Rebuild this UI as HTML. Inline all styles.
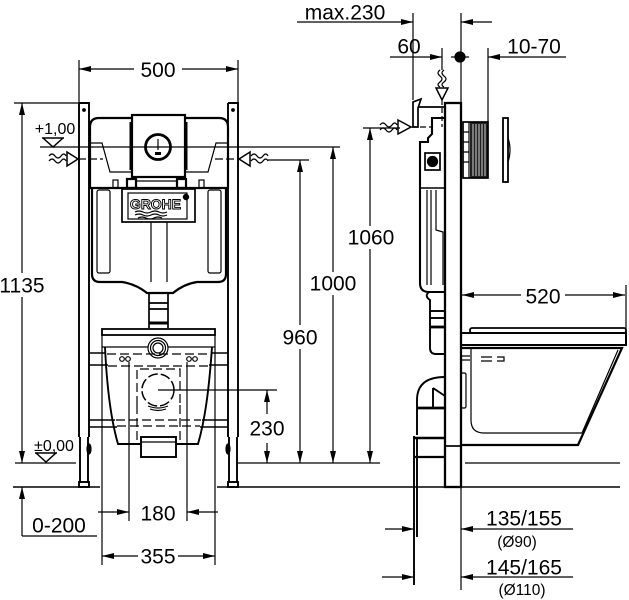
<!DOCTYPE html>
<html><head><meta charset="utf-8"><style>
html,body{margin:0;padding:0;background:#fff;}
svg{display:block;}
text{font-family:"Liberation Sans",Arial,sans-serif;fill:#000;}
</style></head><body>
<svg width="629" height="600" viewBox="0 0 629 600" xmlns="http://www.w3.org/2000/svg">
<defs>
<marker id="a" viewBox="0 0 12 6" markerWidth="12" markerHeight="6" refX="12" refY="3" orient="auto" markerUnits="userSpaceOnUse"><path d="M0,0L12,3L0,6z" fill="#000"/></marker>
</defs>
<g stroke="#000" fill="none" stroke-width="1.2">

<!-- ============ LEFT (FRONT) VIEW ============ -->
<!-- 500 dim -->
<line x1="79" y1="60" x2="79" y2="104"/>
<line x1="238" y1="60" x2="238" y2="104"/>
<line x1="134" y1="69" x2="79" y2="69" marker-end="url(#a)"/>
<line x1="182" y1="69" x2="238" y2="69" marker-end="url(#a)"/>

<!-- 1135 dim -->
<line x1="14" y1="103" x2="79" y2="103"/>
<line x1="22" y1="273" x2="22" y2="103" marker-end="url(#a)"/>
<line x1="22" y1="297" x2="22" y2="463" marker-end="url(#a)"/>

<!-- level lines -->
<line x1="40" y1="147" x2="340" y2="147"/>
<line x1="15" y1="463" x2="76" y2="463"/>
<line x1="238" y1="463" x2="380" y2="463"/>
<line x1="465" y1="463" x2="620" y2="463"/>
<line x1="13" y1="487" x2="100" y2="487" stroke-width="1.5"/>
<line x1="217" y1="487" x2="620" y2="487" stroke-width="1.5"/>
<!-- level triangles -->
<path d="M42,138 L64,138 M43,138 L53,147 L63,138" stroke-width="1.5"/>
<path d="M35,453 L57,453 M36,453 L46,462 L56,453" stroke-width="1.5"/>

<!-- posts -->
<g stroke-width="1.9">
<path d="M79,103 L89,103 L89,437 M79,103 L79,437"/>
<path d="M228,103 L238,103 L238,437 M228,103 L228,437"/>
<path d="M80,437 L80,483 M88,437 L88,483"/>
<path d="M229,437 L229,483 M237,437 L237,483"/>
<rect x="79" y="482" width="10" height="5"/>
<rect x="228" y="482" width="10" height="5"/>
</g>
<ellipse cx="89" cy="449" rx="2" ry="5" fill="#000"/>
<ellipse cx="228" cy="449" rx="2" ry="5" fill="#000"/>
<circle cx="84" cy="110" r="1.3" fill="#000"/>
<circle cx="233" cy="110" r="1.3" fill="#000"/>

<!-- inlet arrows front -->
<path d="M49,156 q3,-4 6,0 t6,0 t5,0 M49,161 q3,-4 6,0 t6,0 t5,0"/>
<path d="M67,152 L78,159 L67,166 Z" stroke-width="1.5"/>
<line x1="78" y1="159" x2="103" y2="159" stroke-dasharray="8,3"/>
<path d="M250,152 L239,159 L250,166 Z" stroke-width="1.5"/>
<path d="M251,156 q3,-4 6,0 t6,0 t5,0 M251,161 q3,-4 6,0 t6,0 t5,0"/>
<line x1="215" y1="159" x2="239" y2="159" stroke-dasharray="8,3"/>
<line x1="268" y1="160" x2="309" y2="160"/>

<!-- cistern -->
<g stroke-width="2.2">
<path d="M90,188 L90,127 Q90,118 99,118 L219,118 Q228,118 228,127 L228,188 Z"/>
<path d="M92,188 L92,274 Q92,282 100,282 L122,282 Q136,284 147,293 L173,293 Q184,284 197,282 L218,282 Q226,282 226,274 L226,188"/>
</g>
<path d="M90,143 L102,143 L110,172 L132,172 M228,143 L216,143 L208,172 L185,172"/>
<rect x="113" y="180" width="5" height="8"/>
<rect x="199" y="180" width="5" height="8"/>
<rect x="127" y="179" width="9" height="9" stroke-width="2.2"/>
<rect x="177" y="179" width="9" height="9" stroke-width="2.2"/>
<line x1="136" y1="181" x2="177" y2="181"/>
<rect x="97" y="190" width="13" height="83" rx="2"/>
<rect x="208" y="190" width="13" height="83" rx="2"/>
<line x1="151" y1="222" x2="151" y2="282"/>
<line x1="167" y1="222" x2="167" y2="282"/>
<!-- button plate -->
<rect x="132" y="115" width="53" height="62" stroke-width="2.2" fill="#fff"/>
<line x1="132" y1="147" x2="185" y2="147"/>
<rect x="129.5" y="122" width="2.5" height="48" fill="#000" stroke="none"/>
<rect x="185" y="122" width="2.5" height="48" fill="#000" stroke="none"/>
<circle cx="158" cy="147" r="12.5" stroke-width="2.8" fill="#fff"/>
<line x1="146" y1="147" x2="170" y2="147"/>
<line x1="158" y1="139" x2="158" y2="150"/>
<rect x="155" y="152" width="6" height="3" fill="#000" stroke="none"/>
<!-- GROHE plate -->
<rect x="122" y="189" width="73" height="33" stroke-width="1.7" fill="#fff"/>
<rect x="128" y="193" width="59" height="26"/>
<text x="130" y="209" font-size="13.5" font-weight="bold" textLength="51" lengthAdjust="spacingAndGlyphs" style="fill:#fff;stroke:#000;stroke-width:0.9">GROHE</text>
<circle cx="186" cy="197" r="2.6" fill="#000"/>
<path d="M135,212 q4,-2 8,0 t8,0 t8,0 t8,0 M135,215 q4,-2 8,0 t8,0 t8,0 t8,0 M138,218 q4,-2 8,0 t8,0 t8,0"/>
<!-- outlet pipe -->
<g stroke-width="1.7">
<path d="M149,293 L149,328 M168,293 L168,328"/>
<line x1="149" y1="303" x2="168" y2="303"/>
<line x1="149" y1="309" x2="168" y2="309"/>
<line x1="149" y1="323" x2="168" y2="323" stroke-width="3"/>
</g>

<!-- frame crossbars -->
<path d="M89,353 L106,353 M89,365 L108,365 M211,353 L228,353 M209,365 L228,365" stroke-width="1.5"/>
<path d="M89,420 L115,420 M89,427 L117,427 M202,420 L228,420 M200,427 L228,427" stroke-width="1.5"/>

<!-- front toilet -->
<rect x="102" y="329" width="113" height="6" stroke-width="1.8"/>
<line x1="102" y1="347" x2="215" y2="347"/>
<path d="M105,347 C107,390 111,420 118,444 L198,444 C205,420 209,390 212,347" stroke-width="1.9"/>
<circle cx="158" cy="348" r="10" fill="#fff"/>
<circle cx="158" cy="348" r="7.5"/>
<circle cx="158" cy="348" r="5"/>
<g stroke-dasharray="9,4">
<line x1="107" y1="354" x2="210" y2="354"/>
<line x1="108" y1="366" x2="209" y2="366"/>
<line x1="116" y1="420" x2="201" y2="420"/>
<line x1="117" y1="426" x2="200" y2="426"/>
<path d="M137,405 L137,369 L180,369 L180,405"/>
<line x1="137" y1="405" x2="137" y2="440"/>
<line x1="180" y1="405" x2="180" y2="440"/>
</g>
<circle cx="158" cy="390" r="16" stroke-dasharray="10,3" stroke-width="1.5"/>
<path d="M148,406 q10,4 20,0 M150,409 q8,3 16,0"/>
<circle cx="122" cy="359" r="2.3"/><circle cx="128" cy="359" r="2.3"/>
<circle cx="189" cy="359" r="2.3"/><circle cx="195" cy="359" r="2.3"/>
<rect x="141" y="437" width="35" height="20" stroke-width="1.9" fill="#fff"/>
<line x1="141" y1="442" x2="176" y2="442"/>

<!-- 355 / 180 ext -->
<line x1="102" y1="335" x2="102" y2="565"/>
<line x1="215" y1="335" x2="215" y2="565"/>
<line x1="129" y1="362" x2="129" y2="521"/>
<line x1="187" y1="362" x2="187" y2="521"/>
<line x1="98" y1="512" x2="129" y2="512" marker-end="url(#a)"/>
<line x1="218" y1="512" x2="187" y2="512" marker-end="url(#a)"/>
<line x1="138" y1="556" x2="102" y2="556" marker-end="url(#a)"/>
<line x1="178" y1="556" x2="215" y2="556" marker-end="url(#a)"/>

<!-- 0-200 -->
<line x1="22" y1="536" x2="22" y2="487" marker-end="url(#a)"/>
<line x1="22" y1="536" x2="97" y2="536"/>

<!-- 230 -->
<line x1="158" y1="390" x2="277" y2="390"/>
<line x1="267" y1="414" x2="267" y2="390" marker-end="url(#a)"/>
<line x1="267" y1="443" x2="267" y2="463" marker-end="url(#a)"/>

<!-- 960 / 1000 / 1060 -->
<line x1="300" y1="325" x2="300" y2="160" marker-end="url(#a)"/>
<line x1="300" y1="349" x2="300" y2="463" marker-end="url(#a)"/>
<line x1="333" y1="272" x2="333" y2="147" marker-end="url(#a)"/>
<line x1="333" y1="295" x2="333" y2="463" marker-end="url(#a)"/>
<line x1="363" y1="128" x2="400" y2="128"/>
<line x1="370" y1="226" x2="370" y2="128" marker-end="url(#a)"/>
<line x1="370" y1="249" x2="370" y2="463" marker-end="url(#a)"/>

<!-- ============ RIGHT (SIDE) VIEW ============ -->
<!-- top dims -->
<line x1="297" y1="22" x2="413" y2="22" marker-end="url(#a)"/>
<line x1="413" y1="13" x2="413" y2="100"/>
<line x1="461" y1="13" x2="461" y2="104"/>
<line x1="492" y1="22" x2="461" y2="22" marker-end="url(#a)"/>
<line x1="390" y1="57" x2="442" y2="57" marker-end="url(#a)"/>
<line x1="442" y1="48" x2="442" y2="70"/>
<line x1="451" y1="57" x2="469" y2="57"/>
<circle cx="460" cy="57" r="5" fill="#000"/>
<line x1="566" y1="57" x2="488" y2="57" marker-end="url(#a)"/>
<line x1="488" y1="48" x2="488" y2="122"/>

<!-- top inlet -->
<path d="M440,70 q-4,3 0,6 t0,6 t0,5 M444,70 q-4,3 0,6 t0,6 t0,5"/>
<path d="M436,88 L448,88 L442,100 Z" stroke-width="1.5"/>
<line x1="442" y1="100" x2="442" y2="127" stroke-dasharray="5,3"/>
<!-- side inlet -->
<path d="M380,125 q3,-4 6,0 t6,0 t5,0 M380,130 q3,-4 6,0 t6,0 t5,0"/>
<path d="M398,120 L411,127 L398,134 Z" stroke-width="1.5"/>
<line x1="411" y1="127" x2="432" y2="127" stroke-dasharray="6,3"/>

<!-- frame side -->
<rect x="445" y="103" width="16" height="384" stroke-width="2.3"/>
<line x1="445" y1="446" x2="461" y2="446" stroke-width="1.7"/>

<!-- valve -->
<path d="M413,127 L413,102 L421,99 L418,108 L418,127 Z" stroke-width="1.7"/>
<line x1="418" y1="107" x2="445" y2="107" stroke-width="1.7"/>
<!-- cistern side profile -->
<path d="M445,118 L432,118 L432,134 L428,138 L428,142 L420,142 L420,283 Q420,292 429,292 L445,292" stroke-width="2.1"/>
<line x1="420" y1="188" x2="445" y2="188" stroke-width="1.5"/>
<rect x="425" y="153" width="15" height="17" stroke-width="1.7"/>
<circle cx="432.5" cy="161.5" r="5" fill="#000"/>
<path d="M427,190 L427,285 M431,190 L431,285 M436,190 L436,230 L443,232 L443,285"/>
<!-- pipe below cistern -->
<g stroke-width="1.9">
<path d="M429,292 Q424,296 430,300 L430,348 Q430,354 436,354 L445,354"/>
<line x1="430" y1="311" x2="445" y2="311"/>
<line x1="430" y1="318" x2="445" y2="318"/>
<line x1="430" y1="327" x2="445" y2="327" stroke-width="2.8"/>
<path d="M445,377 Q417,377 417,400 L417,435"/>
<line x1="417" y1="408" x2="445" y2="408" stroke-width="2.8"/>
<path d="M433,388 L445,396 M433,388 L433,408"/>
<path d="M414,436 L414,585 M417,438 L417,537"/>
<line x1="414" y1="438" x2="445" y2="438" stroke-width="2.6"/>
<line x1="414" y1="457" x2="445" y2="457" stroke-width="2.2"/>
</g>

<!-- flush plate side -->
<rect x="470" y="122" width="18" height="56" fill="#222" stroke="none"/>
<rect x="463" y="122" width="25" height="56" stroke-width="1.7"/>
<g stroke="#fff" stroke-width="0.8">
<line x1="473" y1="124" x2="473" y2="176"/><line x1="476" y1="124" x2="476" y2="176"/>
<line x1="479" y1="124" x2="479" y2="176"/><line x1="482" y1="124" x2="482" y2="176"/>
<line x1="485" y1="124" x2="485" y2="176"/>
</g>
<line x1="469" y1="122" x2="469" y2="178"/>
<path d="M463,132 L469,132 M463,142 L469,142 M463,152 L469,152 M463,162 L469,162"/>
<rect x="503" y="118" width="5" height="64" stroke-width="1.8"/>
<path d="M508,138 Q512,150 508,162"/>

<!-- side toilet -->
<rect x="470" y="328" width="156" height="5" rx="2" stroke-width="1.8"/>
<path d="M461,333 L626,333 L626,345 L461,345" stroke-width="2"/>
<path d="M461,348 L622,348 L578,445 L461,445" stroke-width="2.2"/>
<path d="M471,348 L471,420 Q471,433 484,433 L582,433 L618,350"/>
<path d="M461,356 L470,356 M461,360 L470,360"/>
<path d="M481,357 L492,357 M481,361 L492,361 M497,357 L504,357 L504,361 L497,361"/>
<rect x="461" y="373" width="5" height="35" rx="1.5"/>

<!-- 520 -->
<line x1="521" y1="295" x2="462" y2="295" marker-end="url(#a)"/>
<line x1="565" y1="295" x2="625" y2="295" marker-end="url(#a)"/>
<line x1="626" y1="285" x2="626" y2="333"/>

<!-- bottom dims -->
<line x1="461" y1="487" x2="461" y2="590"/>
<line x1="385" y1="529" x2="414" y2="529" marker-end="url(#a)"/>
<line x1="573" y1="529" x2="461" y2="529" marker-end="url(#a)"/>
<line x1="382" y1="577" x2="414" y2="577" marker-end="url(#a)"/>
<line x1="573" y1="577" x2="461" y2="577" marker-end="url(#a)"/>
</g>

<!-- ============ TEXT ============ -->
<g font-size="21" text-anchor="middle">
<text x="158" y="77">500</text>
<text x="22" y="292.5">1135</text>
<text x="300" y="344.5">960</text>
<text x="333" y="290.5">1000</text>
<text x="371" y="244.5">1060</text>
<text x="267" y="435.5">230</text>
<text x="158" y="520.5">180</text>
<text x="158" y="563.5">355</text>
<text x="59" y="532.5">0-200</text>
<text x="345" y="19.5">max.230</text>
<text x="409" y="53.5">60</text>
<text x="534" y="53.5">10-70</text>
<text x="543" y="303.5">520</text>
<text x="524" y="525.5">135/155</text>
<text x="524" y="574.5">145/165</text>
</g>
<g font-size="16" text-anchor="middle">
<text x="55" y="134">+1,00</text>
<text x="54" y="451">±0,00</text>
</g>
<g font-size="15.5" text-anchor="middle">
<text x="517" y="547">(Ø90)</text>
<text x="522" y="595">(Ø110)</text>
</g>
</svg>
</body></html>
